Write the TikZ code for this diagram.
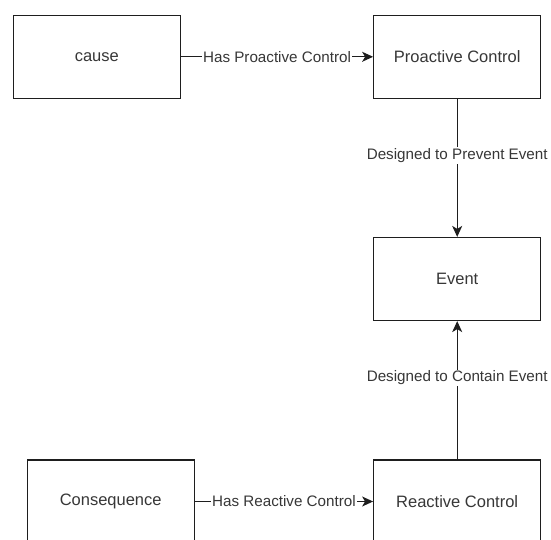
\documentclass[tikz,border=0pt]{standalone}
\usepackage{fontspec}
\setmainfont{Liberation Sans}
\usepackage{xcolor}
\definecolor{Col1}{RGB}{30,30,30}
\definecolor{Col2}{RGB}{55,55,55}
\usepackage{tikz}
\usetikzlibrary{arrows.meta}
\tikzstyle{Box}=[rectangle,draw=Col1,line width=1.2pt,fill=white,
minimum width=167pt,minimum height=83pt,inner sep=0pt,text=Col2,
font=\fontsize{16.5}{19}\selectfont]
\tikzstyle{Link}=[draw=Col1,line width=1.2pt,
-{Stealth[length=11pt,width=10pt,inset=3pt]}]
\tikzstyle{Lab}=[fill=white,inner sep=1pt,text=Col2,
font=\fontsize{15.2}{17}\selectfont]

\begin{document}
\begin{tikzpicture}[x=1pt,y=1pt]
        \clip(0,0)rectangle(551,-540);
        \node[Box](cause)at(96.8,-56.8){cause};
        \node[Box](pro)at(457.2,-56.8){Proactive Control};
        \node[Box](event)at(457.2,-279.0){Event};
        \node[Box](cons)at(110.7,-501.5){Consequence};
        \node[Box](reac)at(457.2,-501.5){Reactive Control};
        \draw[Link](cause)--node[Lab]{Has Proactive Control}(pro);
        \draw[Link](pro)--node[Lab,pos=.41]{Designed to Prevent Event}(event);
        \draw[Link](reac)--node[Lab,pos=.59]{Designed to Contain Event}(event);
        \draw[Link](cons)--node[Lab]{Has Reactive Control}(reac);
    \end{tikzpicture}
\end{document}
